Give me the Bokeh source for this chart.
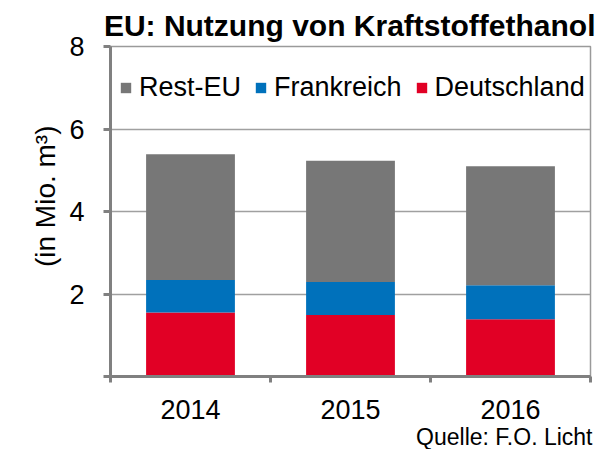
from bokeh.plotting import figure
from bokeh.models import (ColumnDataSource, Range1d, FixedTicker, Legend, LegendItem, Title)
from bokeh.embed import file_html
from bokeh.resources import INLINE

years = ["2014", "2015", "2016"]
deutschland = [1.55, 1.49, 1.39]
frankreich = [0.79, 0.80, 0.82]
rest_eu = [3.05, 2.94, 2.89]
series_names = ["Deutschland", "Frankreich", "Rest-EU"]
series_colors = ["#e10025", "#0071bb", "#777777"]
y_ticks = [0, 2, 4, 6, 8]
title_text = "EU: Nutzung von Kraftstoffethanol"
y_label = "(in Mio. m³)"
source_text = "Quelle: F.O. Licht"

FONT = "Liberation Sans"
AXIS_GRAY = "#808080"

xs = [i + 0.5 for i in range(len(years))]
src = ColumnDataSource(dict(x=xs, Deutschland=deutschland, Frankreich=frankreich, **{"Rest-EU": rest_eu}))

ymax = y_ticks[-1]
p = figure(width=600, height=449, output_backend="svg", toolbar_location=None,
           x_range=Range1d(0, len(years)), y_range=Range1d(0, ymax),
           min_border_left=110, min_border_right=10, min_border_top=46, min_border_bottom=72)

p.title.text = title_text
p.title.align = "right"
p.title.offset = -5
p.title.standoff = 10
p.title.text_font = FONT
p.title.text_font_size = "30px"
p.title.text_font_style = "bold"
p.title.text_color = "#000000"

rs = p.vbar_stack(series_names, x="x", width=0.555, color=series_colors, line_color=None, source=src)

# grid / outline
p.xgrid.grid_line_color = None
p.ygrid.grid_line_color = "#a0a0a0"
p.ygrid.grid_line_width = 1.5
p.ygrid.ticker = FixedTicker(ticks=y_ticks)
p.outline_line_color = "#9a9a9a"
p.outline_line_width = 1.5

# x axis: labels at centers, ticks at category boundaries
xa = p.xaxis[0]
xa.ticker = FixedTicker(ticks=xs, minor_ticks=list(range(len(years) + 1)))
xa.major_label_overrides = {x: y for x, y in zip(xs, years)}
xa.major_tick_in = 0
xa.major_tick_out = 0
xa.minor_tick_in = 0
xa.minor_tick_out = 6
xa.minor_tick_line_color = AXIS_GRAY
xa.minor_tick_line_width = 3
xa.axis_line_color = AXIS_GRAY
xa.axis_line_width = 3
xa.major_label_text_font = FONT
xa.major_label_text_font_size = "27px"
xa.major_label_text_color = "#000000"
xa.major_label_standoff = 17

ya = p.yaxis[0]
ya.ticker = FixedTicker(ticks=y_ticks)
ya.major_label_overrides = {0: ""}
ya.major_tick_in = 0
ya.major_tick_out = 7
ya.major_tick_line_color = AXIS_GRAY
ya.major_tick_line_width = 3
ya.minor_tick_line_color = None
ya.axis_line_color = AXIS_GRAY
ya.axis_line_width = 3
ya.major_label_text_font = FONT
ya.major_label_text_font_size = "27px"
ya.major_label_text_color = "#000000"
ya.major_label_standoff = 19

# y axis title (left title, right-aligned = toward the top, shifted down by offset)
p.add_layout(Title(text=y_label, align="right", offset=79, standoff=12, text_font=FONT,
                   text_font_size="28px", text_font_style="normal", text_color="#000000"), "left")

# legend (Rest-EU, Frankreich, Deutschland)
items = [LegendItem(label=n, renderers=[r]) for n, r in zip(series_names[::-1], rs[::-1])]
legend = Legend(items=items, orientation="horizontal", location=(9, 273),
                glyph_width=13, glyph_height=13, label_standoff=7, spacing=13,
                padding=0, margin=0, border_line_alpha=0, background_fill_alpha=0,
                label_text_font=FONT, label_text_font_size="27px", label_text_color="#000000")
p.add_layout(legend, "center")

# source note
p.add_layout(Title(text=source_text, align="right", offset=-2, standoff=0, text_font=FONT,
                   text_font_size="23px", text_font_style="normal", text_color="#000000"), "below")

open("out.html", "w").write(file_html(p, INLINE))
